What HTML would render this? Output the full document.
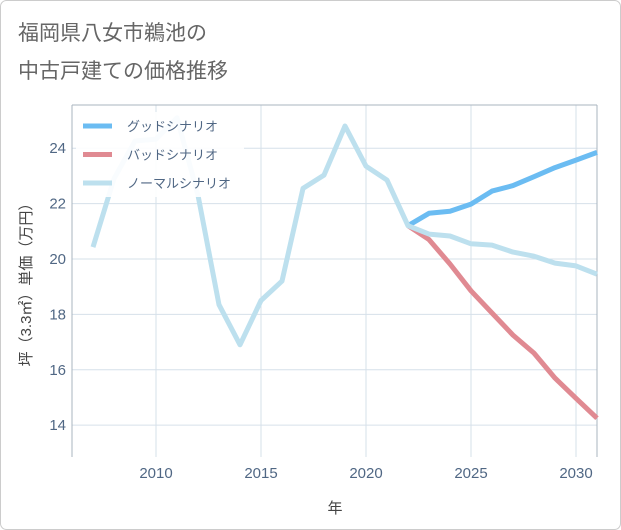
<!DOCTYPE html>
<html><head><meta charset="utf-8"><style>
body{margin:0;background:#fff;}
#wrap{position:relative;width:621px;height:530px;overflow:hidden;}
svg text{font-family:"Liberation Sans","Noto Sans CJK JP",sans-serif;}
</style></head><body>
<div id="wrap">
<svg id="chart" width="621" height="530">
<rect x="0.5" y="0.5" width="620" height="529" rx="6" fill="#fff" stroke="#ccc"/>
<text x="18" y="40" font-size="21" fill="#666">福岡県八女市鵜池の</text>
<text x="18" y="78" font-size="21" fill="#666">中古戸建ての価格推移</text>
<g id="grid"></g>
<g id="axes"></g>
<g id="series"></g>
<g id="legend"></g>
<text x="335" y="513" font-size="15" fill="#444" text-anchor="middle">年</text>
<text transform="translate(31,281) rotate(-90)" font-size="15" fill="#444" text-anchor="middle">坪（3.3㎡）単価（万円）</text>
</svg>
</div>
<script>
const years=[2007,2008,2009,2010,2011,2012,2013,2014,2015,2016,2017,2018,2019,2020,2021,2022,2023,2024,2025,2026,2027,2028,2029,2030,2031];
const normalValues=[20.43,22.9,24.26,24.33,25.1,22.3,18.35,16.9,18.5,19.2,22.55,23.03,24.8,23.35,22.85,21.2,20.9,20.83,20.55,20.5,20.25,20.1,19.85,19.75,19.45];
const futureYears=[2022,2023,2024,2025,2026,2027,2028,2029,2030,2031];
const goodValues=[21.2,21.65,21.72,21.98,22.45,22.65,22.97,23.3,23.57,23.85];
const badValues=[21.2,20.7,19.82,18.85,18.05,17.25,16.6,15.7,14.97,14.25];
const xTicks=[2010,2015,2020,2025,2030];
const yTicks=[14,16,18,20,22,24];
const legendLabels=["グッドシナリオ","バッドシナリオ","ノーマルシナリオ"];
const legendColors=["#6bbcf2","#e08a92","#bde0ee"];

const L=72,R=597,T=105,B=457;
const xMin=2006,xMax=2031,yMin=12.85,yMax=25.56;
const sx=v=>L+(v-xMin)/(xMax-xMin)*(R-L);
const sy=v=>B-(v-yMin)/(yMax-yMin)*(B-T);
const NS="http://www.w3.org/2000/svg";
function mk(tag,attrs,parent){const e=document.createElementNS(NS,tag);for(const k in attrs)e.setAttribute(k,attrs[k]);parent.appendChild(e);return e;}
const grid=document.getElementById('grid'),axes=document.getElementById('axes'),series=document.getElementById('series'),legend=document.getElementById('legend');

xTicks.forEach(t=>{
  const l=mk('line',{x1:sx(t),x2:sx(t),y1:T,y2:B,stroke:'#d6e0ea','stroke-width':1},grid);
  
  
  const tx=mk('text',{x:sx(t),y:B+21,'font-size':15,fill:'#506784','text-anchor':'middle'},axes);
  tx.textContent=t;
  
  
});
yTicks.forEach(t=>{
  const l=mk('line',{x1:L,x2:R,y1:sy(t),y2:sy(t),stroke:'#d6e0ea','stroke-width':1},grid);
  
  
  const tx=mk('text',{x:L-6,y:sy(t)+5,'font-size':15,fill:'#506784','text-anchor':'end'},axes);
  tx.textContent=t;
  
  
});
const ax=mk('line',{x1:L,x2:L,y1:T,y2:B,stroke:'#aab4bf','stroke-width':1},axes);


const ax2=mk('line',{x1:R,x2:R,y1:T,y2:B,stroke:'#aab4bf','stroke-width':1},axes);


const ax3=mk('line',{x1:L,x2:R,y1:T,y2:T,stroke:'#aab4bf','stroke-width':1},axes);



function pts(xs,ys){return xs.map((x,i)=>sx(x).toFixed(1)+','+sy(ys[i]).toFixed(1)).join(' ');}
const pb=mk('polyline',{points:pts(futureYears,badValues),fill:'none',stroke:legendColors[1],'stroke-width':5,'stroke-linejoin':'round'},series);


const pg=mk('polyline',{points:pts(futureYears,goodValues),fill:'none',stroke:legendColors[0],'stroke-width':5,'stroke-linejoin':'round'},series);


const pn=mk('polyline',{points:pts(years,normalValues),fill:'none',stroke:legendColors[2],'stroke-width':5,'stroke-linejoin':'round'},series);



const lbg=mk('rect',{x:76,y:112,width:168,height:85,fill:'#fff','fill-opacity':0.9},legend);


legendLabels.forEach((lab,i)=>{
  const y=126+i*28.5;
  const g=mk('g',{},legend);
  
  
  mk('line',{x1:83,x2:112,y1:y,y2:y,stroke:legendColors[i],'stroke-width':5},g);
  const t=mk('text',{x:127,y:y+5,'font-size':13,fill:'#506784'},g);
  t.textContent=lab;
});
</script>
</body></html>
